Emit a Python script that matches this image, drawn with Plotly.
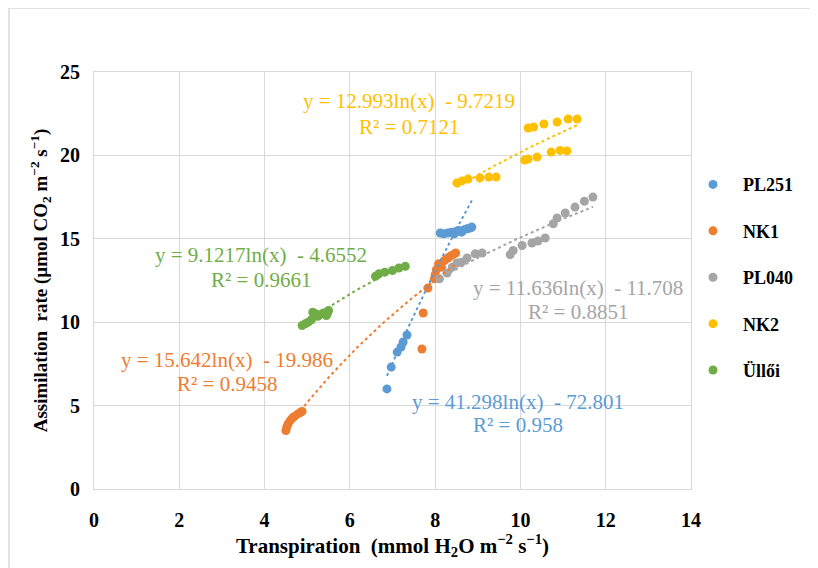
import numpy as np
import plotly.graph_objects as go

series_names = ["PL251", "NK1", "PL040", "NK2", "Üllői"]
colors = ["#5B9BD5", "#ED7D31", "#A5A5A5", "#FFC000", "#70AD47"]

x_ticks = [0, 2, 4, 6, 8, 10, 12, 14]
y_ticks = [0, 5, 10, 15, 20, 25]

pl251_x = [6.87, 6.97, 7.11, 7.2, 7.25, 7.34, 8.12, 8.2, 8.3, 8.38, 8.45, 8.5, 8.55, 8.62, 8.68, 8.75, 8.82, 8.86]
pl251_y = [6.0, 7.31, 8.21, 8.51, 8.81, 9.23, 15.35, 15.3, 15.35, 15.4, 15.3, 15.45, 15.5, 15.4, 15.55, 15.6, 15.65, 15.7]

nk1_x = [4.5, 4.52, 4.55, 4.6, 4.65, 4.7, 4.78, 4.85, 4.88, 7.69, 7.72, 7.83, 7.98, 8.0, 8.03, 8.08, 8.15, 8.22, 8.3, 8.35, 8.42, 8.48]
nk1_y = [3.5, 3.7, 3.9, 4.1, 4.25, 4.35, 4.5, 4.6, 4.65, 8.39, 10.55, 12.05, 12.6, 12.85, 13.15, 13.5, 13.3, 13.7, 13.85, 13.95, 14.05, 14.15]

pl040_x = [8.1, 8.28, 8.4, 8.51, 8.62, 8.75, 8.94, 9.1, 9.76, 9.83, 10.04, 10.27, 10.41, 10.58, 10.77, 10.86, 11.05, 11.28, 11.5, 11.7]
pl040_y = [12.6, 12.95, 13.3, 13.55, 13.6, 13.85, 14.1, 14.15, 14.05, 14.3, 14.6, 14.75, 14.87, 15.05, 15.9, 16.25, 16.55, 16.9, 17.25, 17.5]

nk2_x = [8.51, 8.63, 8.77, 9.05, 9.26, 9.43, 10.1, 10.18, 10.39, 10.72, 10.93, 11.09, 10.18, 10.31, 10.55, 10.86, 11.12, 11.33]
nk2_y = [18.35, 18.47, 18.58, 18.65, 18.7, 18.7, 19.72, 19.78, 19.9, 20.2, 20.3, 20.27, 21.64, 21.7, 21.88, 22.0, 22.18, 22.18]

ulloi_x = [4.88, 4.95, 5.02, 5.1, 5.13, 5.2, 5.25, 5.3, 5.38, 5.45, 5.5, 5.48, 6.6, 6.68, 6.82, 7.0, 7.15, 7.3]
ulloi_y = [9.8, 9.9, 10.0, 10.15, 10.6, 10.5, 10.35, 10.45, 10.55, 10.4, 10.7, 10.55, 12.75, 12.9, 13.0, 13.1, 13.25, 13.35]

# logarithmic trendline coefficients y = a*ln(x) + b
trend_a = [41.298, 15.642, 11.636, 12.993, 9.1217]
trend_b = [-72.801, -19.986, -11.708, -9.7219, -4.6552]
r2_labels = ["R² = 0.958", "R² = 0.9458", "R² = 0.8851", "R² = 0.7121", "R² = 0.9661"]
eq_labels = ["y = 41.298ln(x)  - 72.801", "y = 15.642ln(x)  - 19.986",
             "y = 11.636ln(x)  - 11.708", "y = 12.993ln(x)  - 9.7219",
             "y = 9.1217ln(x)  - 4.6552"]
# label placement (data coords): x center, y of equation line, y of R² line
label_x = [9.94, 3.11, 11.35, 7.39, 3.92]
label_y_eq = [5.22, 7.73, 12.05, 23.26, 14.03]
label_y_r2 = [3.84, 6.29, 10.61, 21.70, 12.53]

xs = [pl251_x, nk1_x, pl040_x, nk2_x, ulloi_x]
ys = [pl251_y, nk1_y, pl040_y, nk2_y, ulloi_y]

fig = go.Figure()
for i, name in enumerate(series_names):
    fig.add_trace(go.Scatter(
        x=xs[i], y=ys[i], mode="markers", name="<b>" + name + "</b>",
        legendgroup=name,
        marker=dict(color=colors[i], size=9, line=dict(width=0)),
    ))
for i, name in enumerate(series_names):
    x0, x1 = min(xs[i]), max(xs[i])
    tx = np.linspace(x0, x1, 60)
    ty = trend_a[i] * np.log(tx) + trend_b[i]
    fig.add_trace(go.Scatter(
        x=tx, y=ty, mode="lines", showlegend=False, hoverinfo="skip",
        line=dict(color=colors[i], width=2, dash="dot"),
    ))
    for txt, yy in ((eq_labels[i], label_y_eq[i]), (r2_labels[i], label_y_r2[i])):
        fig.add_annotation(
            x=label_x[i], y=yy, xref="x", yref="y",
            text=txt, showarrow=False, align="center",
            font=dict(family="Liberation Serif", size=21, color=colors[i]),
        )

fig.add_shape(type="rect", xref="paper", yref="paper",
              x0=-0.1424, x1=1.25, y0=-0.23, y1=1.1535,
              line=dict(color="#D9D9D9", width=1.5), layer="below")

fig.update_layout(
    width=818, height=568,
    margin=dict(l=86, r=135, t=64, b=87),
    paper_bgcolor="white", plot_bgcolor="white",
    font=dict(family="Liberation Serif"),
    xaxis=dict(
        range=[0, 14], tickvals=x_ticks, ticktext=["<b>%d</b>" % v for v in x_ticks],
        showgrid=True, gridcolor="#D9D9D9", gridwidth=1,
        showline=True, linecolor="#D9D9D9", mirror=True,
        zeroline=False, ticks="",
        tickfont=dict(family="Liberation Serif", size=20, color="#000", weight="bold"),
        ticklabelstandoff=13,
        title=dict(text="<b>Transpiration  (mmol H<sub>2</sub>O m<sup>−2</sup> s<sup>−1</sup>)</b>",
                   font=dict(family="Liberation Serif", size=21, color="#000"), standoff=5),
    ),
    yaxis=dict(
        range=[0, 25], tickvals=y_ticks, ticktext=["<b>%d</b>" % v for v in y_ticks],
        showgrid=True, gridcolor="#D9D9D9", gridwidth=1,
        showline=True, linecolor="#D9D9D9", mirror=True,
        zeroline=False, ticks="",
        tickfont=dict(family="Liberation Serif", size=20, color="#000", weight="bold"),
        ticklabelstandoff=9,
        title=dict(text="<b>Assimilation  rate (µmol CO<sub>2</sub> m<sup>−2</sup> s<sup>−1</sup>)</b>",
                   font=dict(family="Liberation Serif", size=19, color="#000"), standoff=7),
    ),
    legend=dict(
        x=0.9866, y=0.774, xanchor="left", yanchor="top",
        font=dict(family="Liberation Serif", size=18, color="#000"),
        tracegroupgap=20, bgcolor="rgba(0,0,0,0)",
        itemwidth=50,
    ),
    showlegend=True,
)

fig.write_html("out.html")
